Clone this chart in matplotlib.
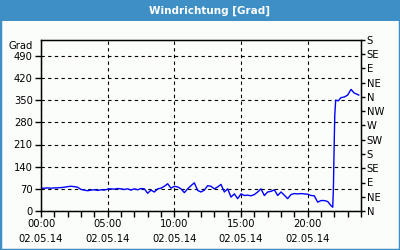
import numpy as np
import matplotlib
matplotlib.use("Agg")
import matplotlib.pyplot as plt
from matplotlib.patches import Rectangle

# wind direction over one day (hours since 00:00, degrees)
hours = [0.0, 0.25, 0.5, 0.75, 1.0, 1.25, 1.5, 1.75, 2.0, 2.25, 2.5, 2.75,
         3.0, 3.25, 3.5, 3.75, 4.0, 4.25, 4.5, 4.75, 5.0, 5.25, 5.5, 5.75,
         6.0, 6.25, 6.5, 6.75, 7.0, 7.25, 7.5, 7.75, 8.0, 8.25, 8.5, 8.75,
         9.0, 9.25, 9.5, 9.75, 10.0, 10.25, 10.5, 10.75, 11.0, 11.25, 11.5, 11.75,
         12.0, 12.25, 12.5, 12.75, 13.0, 13.25, 13.5, 13.75, 14.0, 14.25, 14.5, 14.75,
         15.0, 15.25, 15.5, 15.75, 16.0, 16.25, 16.5, 16.75, 17.0, 17.25, 17.5, 17.75,
         18.0, 18.25, 18.5, 18.75, 19.0, 19.25, 19.5, 19.75, 20.0, 20.25, 20.5, 20.75,
         21.0, 21.25, 21.5, 21.75, 21.88, 21.93, 21.98, 22.03, 22.1,
         22.3, 22.5, 22.75, 23.0, 23.25, 23.5, 23.65, 23.83]
direction = [72, 72, 73, 72, 73, 73, 74, 75, 77, 78, 77, 75,
             68, 66, 64, 66, 67, 65, 67, 66, 69, 70, 69, 71,
             70, 68, 70, 66, 70, 67, 71, 70, 56, 66, 60, 70,
             72, 78, 86, 72, 78, 76, 70, 58, 70, 80, 89, 65,
             60, 66, 80, 78, 70, 76, 84, 60, 70, 44, 54, 39,
             54, 49, 50, 48, 52, 60, 70, 49, 60, 62, 67, 49,
             60, 50, 39, 52, 55, 54, 55, 54, 53, 49, 48, 28,
             33, 33, 30, 17, 12, 70, 190, 300, 350,
             348, 358, 360, 366, 384, 372, 370, 366]

y_ticks = [0, 70, 140, 210, 280, 350, 420, 490]
compass_ticks = [0, 45, 90, 135, 180, 225, 270, 315, 360, 405, 450, 495, 540]
compass_labels = ["N", "NE", "E", "SE", "S", "SW", "W", "NW", "N", "NE", "E", "SE", "S"]
x_ticks = [0, 5, 10, 15, 20]
x_labels = ["00:00\n02.05.14", "05:00\n02.05.14", "10:00\n02.05.14",
            "15:00\n02.05.14", "20:00\n02.05.14"]

blue = "#3d8fc6"
plt.rcParams["font.family"] = "DejaVu Sans"
plt.rcParams["font.size"] = 7.2

fig = plt.figure(figsize=(4, 2.5), dpi=100, facecolor="#fbfdfb")

# title bar and frame
fig.patches.append(Rectangle((0, 1 - 21 / 250), 1, 21 / 250, transform=fig.transFigure,
                             facecolor=blue, edgecolor="none"))
fig.patches.append(Rectangle((0, 0), 1, 1, transform=fig.transFigure,
                             facecolor="none", edgecolor=blue, lw=2.5))
fig.text(0.523, 1 - 10.5 / 250, "Windrichtung [Grad]", color="white", weight="bold",
         fontsize=7.5, ha="center", va="center")

ax = fig.add_axes([41 / 400, 1 - 211 / 250, 320 / 400, 171 / 250])
ax.set_facecolor("#fbfdfb")
ax.plot(hours, direction, color="#0000ff", lw=1)
ax.set_xlim(0, 24)
ax.set_ylim(0, 540)
ax.set_yticks(y_ticks)
ax.set_xticks(x_ticks)
ax.set_xticklabels(x_labels, linespacing=1.6)
ax.set_xticks(np.arange(0, 25, 1), minor=True)
ax.grid(True, color="black", linestyle=(0, (3, 3)), lw=0.8)
ax.tick_params(axis="both", which="both", direction="out", length=4, width=1, pad=2,
               colors="black")
for s in ax.spines.values():
    s.set_linewidth(1)
ax.text(-0.025, 0.965, "Grad", transform=ax.transAxes, ha="right", va="center")

ax2 = ax.twinx()
ax2.set_ylim(0, 540)
ax2.set_yticks(compass_ticks)
ax2.set_yticklabels(compass_labels)
ax2.tick_params(axis="y", direction="out", length=3, width=1, pad=1)

fig.savefig("out.png", dpi=100, facecolor=fig.get_facecolor())
